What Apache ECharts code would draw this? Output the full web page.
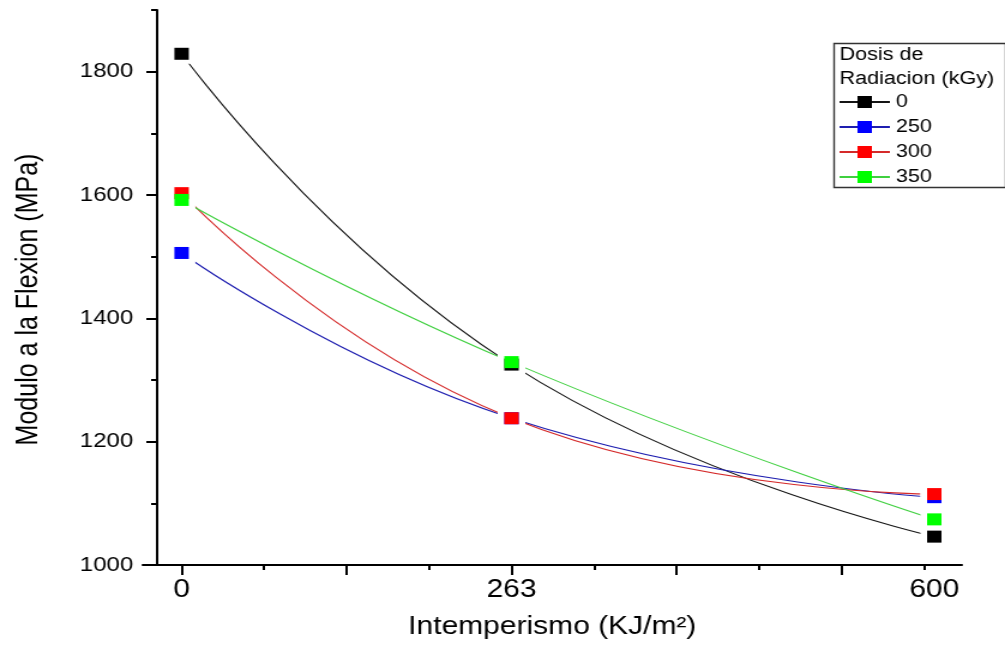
<!DOCTYPE html>
<html>
<head>
<meta charset="utf-8">
<script src="https://cdn.jsdelivr.net/npm/echarts@6/dist/echarts.min.js"></script>
<style>
  html, body { margin: 0; padding: 0; background: #ffffff; overflow: hidden; }
  /* the figure is drawn at a narrower width and widened horizontally */
  #chart { width: 838px; height: 650px; transform: scaleX(1.1993); transform-origin: 0 0; }
</style>
</head>
<body>
<div id="chart"></div>
<script>
// Irradiation doses (kGy) and weathering exposure (KJ/m2)
const doses = ['0', '250', '300', '350'];
const exposure = [0, 263, 600];

// Flexural modulus (MPa) for each dose
const modulus0 = [1829, 1325, 1046];
const modulus250 = [1506, 1238, 1110];
const modulus300 = [1603, 1238, 1115];
const modulus350 = [1592, 1329, 1074];

// Axis ticks and labels
const xMajorTicks = [0, 131.5, 263, 394.5, 526];
const xMinorTicks = [65.75, 197.25, 328.75, 460.25, 591.75];
const xTickLabels = [0, 263, 600];
const yMajorTicks = [1000, 1200, 1400, 1600, 1800];
const yMinorTicks = [1100, 1300, 1500, 1700, 1900];

const modulusByDose = [modulus0, modulus250, modulus300, modulus350];
const markerColors = ['#000000', '#0000ff', '#ff0000', '#00ff00'];
const lineColors = ['#151515', '#1e1eb0', '#d52a2a', '#3fd03f'];
const FONT = '"Liberation Sans", Arial, sans-serif';

const pairs = vals => exposure.map((x, i) => [x, vals[i]]);

const series = [];
// smoothed connecting curves
modulusByDose.forEach((vals, k) => {
  series.push({
    name: doses[k],
    type: 'line',
    data: pairs(vals),
    smooth: 0.5,
    showSymbol: false,
    symbol: 'rect',
    color: markerColors[k],
    itemStyle: { color: markerColors[k] },
    lineStyle: { color: lineColors[k], width: 1.1 },
    z: 2,
    silent: true
  });
});
// white gaps around every data point
series.push({
  type: 'scatter',
  data: [].concat(...modulusByDose.map(pairs)),
  symbol: 'rect',
  symbolSize: [23, 20],
  itemStyle: { color: '#ffffff', opacity: 1 },
  emphasis: { disabled: true },
  z: 3,
  silent: true
});
// square markers
modulusByDose.forEach((vals, k) => {
  series.push({
    name: doses[k],
    type: 'scatter',
    data: pairs(vals),
    symbol: 'rect',
    symbolSize: 12,
    itemStyle: { color: markerColors[k], opacity: 1 },
    emphasis: { disabled: true },
    z: 4 + k,
    silent: true
  });
});

const tickLine = { color: '#000000', width: 2 };
const plain = v => String(v);

const option = {
  backgroundColor: '#ffffff',
  animation: false,
  grid: { left: 119, top: 10, width: 683, bottom: 85, containLabel: false },
  xAxis: [
    {
      type: 'value', min: -31, max: 622, position: 'bottom',
      axisLine: { show: true, onZero: false, lineStyle: { color: '#000000', width: 2 } },
      axisTick: { show: true, customValues: xMajorTicks, length: 10, inside: false, lineStyle: tickLine },
      axisLabel: { show: true, customValues: xTickLabels, formatter: plain, margin: 13, color: '#000000', fontSize: 25, fontFamily: FONT },
      splitLine: { show: false },
      name: 'Intemperismo (KJ/m²)', nameLocation: 'middle', nameGap: 50,
      nameTextStyle: { color: '#000000', fontSize: 25, fontFamily: FONT }
    },
    {
      type: 'value', min: -31, max: 622, position: 'bottom',
      axisLine: { show: false, onZero: false },
      axisTick: { show: true, customValues: xMinorTicks, length: 5, inside: false, lineStyle: tickLine },
      axisLabel: { show: false },
      splitLine: { show: false }
    }
  ],
  yAxis: [
    {
      type: 'value', min: 1000, max: 1900, position: 'left', offset: -12,
      axisLine: { show: true, onZero: false, lineStyle: { color: '#000000', width: 2 } },
      axisTick: { show: true, customValues: yMajorTicks, length: 9, inside: false, lineStyle: tickLine },
      axisLabel: { show: true, customValues: yMajorTicks, formatter: plain, margin: 20, color: '#000000', fontSize: 20, fontFamily: FONT },
      splitLine: { show: false },
      name: 'Modulo a la Flexion (MPa)', nameLocation: 'middle', nameGap: 94,
      nameTextStyle: { color: '#000000', fontSize: 25, fontFamily: FONT, padding: [0, 24, 0, 0] }
    },
    {
      type: 'value', min: 1000, max: 1900, position: 'left', offset: -12,
      axisLine: { show: false, onZero: false },
      axisTick: { show: true, customValues: yMinorTicks, length: 5, inside: false, lineStyle: tickLine },
      axisLabel: { show: false },
      splitLine: { show: false }
    }
  ],
  legend: {
    data: doses,
    orient: 'vertical',
    left: 699, top: 93,
    padding: 0,
    itemWidth: 42, itemHeight: 15, itemGap: 7,
    selectedMode: false,
    textStyle: { color: '#000000', fontSize: 18, fontFamily: FONT }
  },
  graphic: [
    {
      type: 'rect', left: 693, top: 41, z: 10,
      shape: { width: 143, height: 144 },
      style: { fill: 'none', stroke: '#333333', lineWidth: 1.4 }
    },
    {
      type: 'text', x: 700, y: 55, z: 10,
      style: { text: 'Dosis de', fill: '#000000', font: '18px ' + FONT, verticalAlign: 'middle' }
    },
    {
      type: 'text', x: 700, y: 79, z: 10,
      style: { text: 'Radiacion (kGy)', fill: '#000000', font: '18px ' + FONT, verticalAlign: 'middle' }
    }
  ],
  series: series
};

const chart = echarts.init(document.getElementById('chart'), null, { renderer: 'canvas' });
chart.setOption(option);
</script>
</body>
</html>
